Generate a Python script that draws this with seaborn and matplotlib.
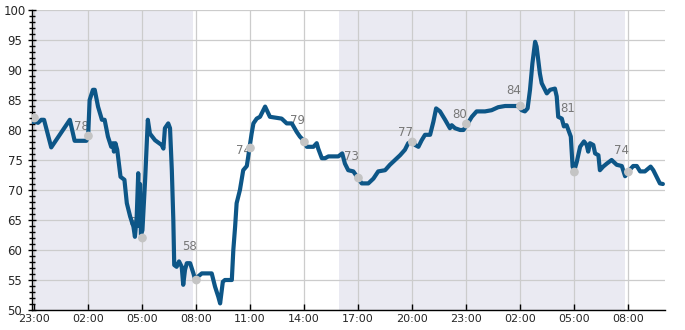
import numpy as np
import pandas as pd
import matplotlib
matplotlib.use("Agg")
import matplotlib.pyplot as plt
import matplotlib.dates as mdates
from matplotlib.ticker import MultipleLocator
import seaborn as sns

# ---- data ----
start_time = "2024-01-01 23:00"
minutes = [-5, 3, 14, 25, 34, 58, 120, 136, 175, 181,
           186, 197, 203, 214, 227, 236, 247, 258, 264, 267,
           272, 278, 289, 302, 310, 321, 332, 337, 343, 348,
           351, 354, 357, 362, 371, 380, 387, 404, 426, 432,
           437, 448, 454, 460, 465, 468, 476, 484, 493, 498,
           504, 510, 521, 532, 537, 548, 560, 593, 604, 615,
           621, 630, 637, 660, 665, 671, 676, 687, 698, 710,
           718, 726, 732, 743, 754, 771, 787, 826, 843, 860,
           876, 887, 902, 910, 932, 943, 948, 960, 971, 982,
           1015, 1028, 1037, 1048, 1065, 1082, 1093, 1115, 1132, 1148,
           1171, 1187, 1204, 1221, 1237, 1248, 1263, 1271, 1282, 1293,
           1304, 1321, 1332, 1341, 1354, 1371, 1387, 1393, 1404, 1421,
           1432, 1443, 1460, 1476, 1504, 1526, 1548, 1571, 1615, 1626,
           1637, 1646, 1654, 1662, 1671, 1676, 1687, 1693, 1704, 1710,
           1721, 1737, 1743, 1748, 1760, 1767, 1776, 1782, 1790, 1796,
           1802, 1810, 1821, 1834, 1843, 1848, 1854, 1865, 1871, 1882,
           1887, 1898, 1910, 1926, 1943, 1960, 1971, 1982, 1998, 2010,
           2021, 2037, 2056, 2065, 2076, 2087, 2097]
values = [81.3, 81.4, 81.2, 81.7, 81.7, 77.1, 81.7, 78.2, 78.2, 78.9,
          85, 86.7, 86.7, 83.9, 81.7, 81.7, 78.9, 77.2, 77.8, 76.4,
          77.8, 76.7, 72.2, 71.7, 67.8, 65.6, 63.9, 62.2, 65.6, 72.8,
          64, 71, 62.5, 63.3, 71.7, 81.7, 79.4, 78.3, 77.5, 76.9,
          80.3, 81.1, 80.3, 73.3, 65, 57.5, 57.2, 58.1, 57.2, 54.2,
          56.7, 57.8, 57.8, 56.1, 55.2, 55.6, 56.1, 56.1, 53.9, 52.2,
          51.1, 54.7, 55, 55, 60, 63.9, 67.8, 70, 73.3, 74,
          76.7, 79.4, 81.1, 81.9, 82.2, 83.9, 82.2, 81.9, 81.1, 81.1,
          79.7, 78.9, 78.1, 77.2, 77.2, 77.8, 76.9, 75.3, 75.3, 75.6,
          75.6, 76.1, 74.4, 73.3, 73.1, 71.9, 71.1, 71.1, 71.9, 73.1,
          73.3, 74.2, 75, 75.8, 76.7, 77.8, 78.1, 77.5, 77.2, 78.3,
          79.2, 79.2, 81.4, 83.6, 83.1, 81.7, 80.3, 80.8, 80.3, 80,
          80, 80.8, 82.2, 83.1, 83.1, 83.3, 83.8, 84, 84, 83.3,
          83.1, 83.6, 86.7, 91.1, 94.7, 93.9, 89.4, 87.8, 86.7, 86.1,
          86.7, 86.9, 85.6, 82.2, 81.9, 80.6, 80.8, 80, 78.9, 73.9,
          73.3, 74.7, 77.2, 78.1, 77.5, 76.4, 77.8, 77.5, 76.1, 75.8,
          73.3, 73.9, 74.4, 75, 74.2, 74, 72.3, 73.1, 74, 74,
          73.1, 73.1, 73.9, 73.3, 72.2, 71.1, 71]

marker_minutes = [2, 182, 362, 542, 722, 902, 1082, 1262, 1442, 1622, 1802, 1982]
marker_values = [82, 79, 62, 55, 77, 78, 72, 78, 81, 84, 73, 73]
marker_labels = [None, 78, 62, 58, 74, 79, 73, 77, 80, 84, 81, 74]

shade_spans = [(-5, 532), (1017, 1971)]
x_range = (-5, 2104)
y_range = (50, 100)

# ---- build ----
t0 = pd.Timestamp(start_time)
to_time = lambda m: t0 + pd.Timedelta(minutes=m)
df = pd.DataFrame({"time": [to_time(m) for m in minutes], "value": values})
dm = pd.DataFrame({"time": [to_time(m) for m in marker_minutes], "value": marker_values})

sns.set_style("white")
plt.rcParams["font.family"] = ["DejaVu Sans"]

fig = plt.figure(figsize=(6.85, 3.3), dpi=100)
ax = fig.add_axes([0.0472, 0.0606, 0.9236, 0.9091])

for a, b in shade_spans:
    ax.axvspan(to_time(a), to_time(b), color="#eaeaf2", zorder=0, lw=0)

ax.grid(True, color="#cccccc", lw=0.9, zorder=1)
ax.set_axisbelow(True)

for m, lab in zip(marker_minutes, marker_labels):
    if lab is None:
        continue
    ax.annotate(str(lab), xy=(to_time(m), lab), xytext=(-5, 11.5),
                textcoords="offset points", ha="center", va="center",
                fontsize=8.5, color="#777777", zorder=2)

sns.lineplot(data=df, x="time", y="value", ax=ax, color="#0d5687", lw=3.0,
             zorder=3, legend=False)
sns.scatterplot(data=dm, x="time", y="value", ax=ax, color="#c4c4c4", s=40,
                edgecolor="none", zorder=4, legend=False)

ax.set_xlim(to_time(x_range[0]), to_time(x_range[1]))
ax.set_ylim(*y_range)
ax.set_xlabel("")
ax.set_ylabel("")

ax.xaxis.set_major_locator(mdates.HourLocator(byhour=[2, 5, 8, 11, 14, 17, 20, 23]))
ax.xaxis.set_major_formatter(mdates.DateFormatter("%H:%M"))
ax.yaxis.set_major_locator(MultipleLocator(5))
ax.yaxis.set_minor_locator(MultipleLocator(1))

for s in ["top", "right"]:
    ax.spines[s].set_visible(False)
for s in ["left", "bottom"]:
    ax.spines[s].set_color("black")
    ax.spines[s].set_linewidth(1.0)

ax.tick_params(axis="y", which="major", direction="inout", length=6, width=1,
               color="black", labelsize=8.5, pad=9.5, left=True)
ax.tick_params(axis="y", which="minor", direction="inout", length=4, width=1,
               color="black", left=True)
ax.tick_params(axis="x", which="major", direction="in", length=4, width=1,
               color="black", labelsize=8, pad=3, bottom=True)
for lbl in ax.get_yticklabels():
    lbl.set_horizontalalignment("center")

fig.savefig("out.png", dpi=100)
